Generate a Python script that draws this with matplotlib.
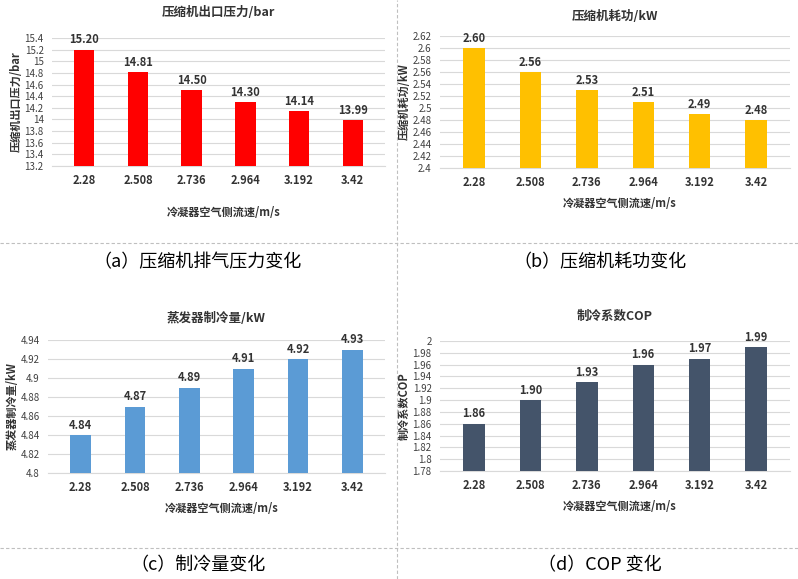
import matplotlib
matplotlib.use("Agg")
import matplotlib.pyplot as plt
from matplotlib.lines import Line2D

plt.rcParams["font.family"] = "Noto Sans CJK SC"

speeds = ["2.28", "2.508", "2.736", "2.964", "3.192", "3.42"]
pressure = [15.20, 14.81, 14.50, 14.30, 14.14, 13.99]
power = [2.60, 2.56, 2.53, 2.51, 2.49, 2.48]
cooling = [4.84, 4.87, 4.89, 4.91, 4.92, 4.93]
cop = [1.86, 1.90, 1.93, 1.96, 1.97, 1.99]

W, H = 798, 579
fig = plt.figure(figsize=(W/100, H/100), dpi=100)

def ax_px(x1, y1, x2, y2):
    return fig.add_axes([x1/W, 1-y2/H, (x2-x1)/W, (y2-y1)/H])

def panel(rect, vals, color, title, ylabel, ylo, yhi, step, fmt_tick, title_y, xlab_y):
    ax = ax_px(*rect)
    x = range(len(vals))
    ax.bar(x, [v - ylo for v in vals], bottom=ylo, width=0.38, color=color, zorder=3)
    for i, v in enumerate(vals):
        ax.text(i, v + (yhi-ylo)*0.025, f"{v:.2f}", ha="center", va="bottom",
                fontsize=8, fontweight="bold", color="#333333")
    n = int(round((yhi-ylo)/step))
    ticks = [ylo + k*step for k in range(n+1)]
    ax.set_yticks(ticks)
    ax.set_yticklabels([fmt_tick(t) for t in ticks], fontsize=7, color="#404040")
    ax.set_ylim(ylo, yhi)
    ax.set_xlim(-0.6, len(vals)-0.4)
    ax.set_xticks(list(x))
    ax.set_xticklabels(speeds, fontsize=8, fontweight="bold", color="#333333")
    ax.grid(axis="y", color="#D9D9D9", lw=0.8, zorder=0)
    for s in ["top", "right", "left"]:
        ax.spines[s].set_visible(False)
    ax.spines["bottom"].set_color("#D9D9D9")
    ax.tick_params(length=0, pad=6)
    ax.set_ylabel(ylabel, fontsize=8, fontweight="bold", color="#333333", labelpad=1)
    cx = (rect[0]+rect[2])/2
    fig.text(cx/W, 1-title_y/H, title, ha="center", va="center", fontsize=9,
             fontweight="bold", color="#333333")
    fig.text((cx+5)/W, 1-xlab_y/H, "冷凝器空气侧流速/m/s", ha="center", va="center",
             fontsize=8, fontweight="bold", color="#333333")
    return ax

def f1(t):
    s = f"{t:.1f}"
    return s[:-2] if s.endswith(".0") else s

def f2(t):
    return f"{t:.2f}".rstrip("0").rstrip(".")

panel((52, 38, 385, 166), pressure, "#FF0000", "压缩机出口压力/bar", "压缩机出口压力/bar",
      13.2, 15.4, 0.2, f1, 12, 212)
panel((440, 36, 790, 168), power, "#FFC000", "压缩机耗功/kW", "压缩机耗功/kW",
      2.4, 2.62, 0.02, f2, 16, 203)
panel((48, 340, 385, 473), cooling, "#5B9BD5", "蒸发器制冷量/kW", "蒸发器制冷量/kW",
      4.8, 4.94, 0.02, f2, 318, 508)
panel((440, 341, 790, 471), cop, "#44546A", "制冷系数COP", "制冷系数COP",
      1.78, 2.0, 0.02, f2, 316, 506)

cap = dict(ha="center", va="center", fontsize=13, color="black")
fig.text(198/W, 1-262/H, "（a）压缩机排气压力变化", **cap)
fig.text(600/W, 1-262/H, "（b）压缩机耗功变化", **cap)
fig.text(198/W, 1-565/H, "（c）制冷量变化", **cap)
fig.text(600/W, 1-565/H, "（d）COP 变化", **cap)

ls = dict(color="#BFBFBF", lw=0.8, linestyle=(0, (3, 2)), transform=fig.transFigure)
fig.add_artist(Line2D([0, 1], [1-243/H, 1-243/H], **ls))
fig.add_artist(Line2D([0, 1], [1-548/H, 1-548/H], **ls))
fig.add_artist(Line2D([397/W, 397/W], [0, 1], **ls))

fig.savefig("out.png", dpi=100)
